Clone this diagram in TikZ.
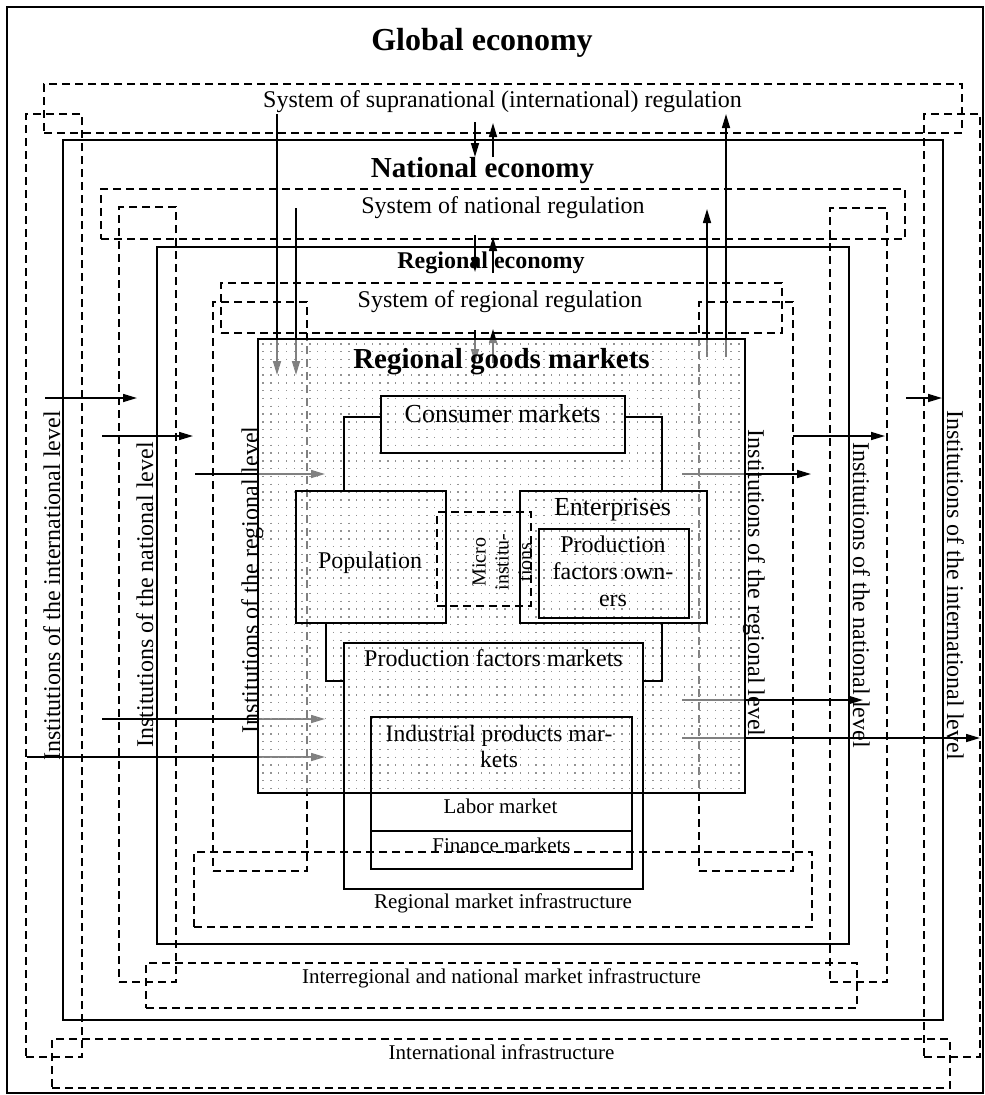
\documentclass[tikz,border=0pt]{standalone}
\usepackage{fontspec}
\setmainfont{Liberation Serif}
\usetikzlibrary{arrows.meta}
\begin{document}
\begin{tikzpicture}[x=1pt,y=-1pt,
  sbox/.style={draw, line width=1.6pt, inner sep=0pt, outer sep=0pt, anchor=north west},
  dbox/.style={sbox, dash pattern=on 8pt off 5pt},
  gbox/.style={sbox, line width=2.6pt},
  arr/.style={line width=1.6pt, -{Triangle[length=14pt,width=8pt]}},
  conn/.style={line width=1.6pt},
  dotline/.style={gray!85, line width=1.4pt, dash pattern=on 1.4pt off 6.4pt},
  lbl/.style={inner sep=0pt, outer sep=0pt, anchor=base},
  fXL/.style={font=\fontsize{32}{36}\selectfont\bfseries},
  fL/.style={font=\fontsize{29}{33}\selectfont\bfseries},
  fM/.style={font=\fontsize{24}{27}\selectfont},
  fMB/.style={font=\fontsize{24}{27}\selectfont\bfseries},
  fK/.style={font=\fontsize{26}{29}\selectfont},
  fS/.style={font=\fontsize{21}{24}\selectfont},
  fXS/.style={font=\fontsize{20}{23}\selectfont}
]
\useasboundingbox (0,0) rectangle (985,1095);

% outer frame
\node[sbox, line width=1.4pt, minimum width=976pt, minimum height=1086pt] (frame) at (7,7) {};

% international level
\node[dbox, minimum width=918pt, minimum height=49pt] (supra) at (44,84) {};
\node[dbox, minimum width=56pt, minimum height=943pt] (intlL) at (26,114) {};
\node[dbox, minimum width=56pt, minimum height=943pt] (intlR) at (924,114) {};
\node[dbox, minimum width=898pt, minimum height=49pt] (intlinf) at (52,1039) {};

% national level
\node[sbox, minimum width=880pt, minimum height=880pt] (nat) at (63,140) {};
\node[dbox, minimum width=804pt, minimum height=50pt] (natreg) at (101,189) {};
\node[dbox, minimum width=57pt, minimum height=775pt] (natL) at (119,207) {};
\node[dbox, minimum width=57pt, minimum height=774pt] (natR) at (830,208) {};
\node[dbox, minimum width=711pt, minimum height=45pt] (natinf) at (146,963) {};

% regional level
\node[sbox, minimum width=692pt, minimum height=697pt] (reg) at (157,247) {};
\node[dbox, minimum width=561pt, minimum height=50pt] (regreg) at (221,283) {};
\node[dbox, minimum width=94pt, minimum height=569pt] (regL) at (213,302) {};
\node[dbox, minimum width=94pt, minimum height=569pt] (regR) at (699,302) {};
\node[dbox, minimum width=618pt, minimum height=75pt] (reginf) at (194,852) {};

% arrows
\foreach \n/\xa/\ya/\xb/\yb in {
  hl1/45/398/137/398, hl2/102/436/193/436, hl3/195/474/325/474,
  hl4/102/719/325/719, hl5/27/757/325/757,
  hr1/906/398/942/398, hr2/793/436/885/436, hr3/682/474/811/474,
  hr4/682/700/863/700, hr5/682/738/980/738,
  vl1/277/114/277/375, vl2/296/208/296/375,
  vr1/707/357/707/209, vr2/726/357/726/114,
  md1/475/122/475/157, mu1/493/157/493/123,
  md2/475/235/475/272, mu2/493/273/493/237,
  md3/475/330/475/363, mu3/493/363/493/329}
{
  \coordinate (\n s) at (\xa,\ya);
  \coordinate (\n e) at (\xb,\yb);
  \draw[arr] (\n s) -- (\n e);
}

% regional goods markets: translucent dotted field
\fill[white, opacity=0.5] (258,339) rectangle (745,793);
\foreach \i in {0,...,61}{\draw[dotline] ({263+\i*7.8},343.2) -- ({263+\i*7.8},790);}
\node[gbox, minimum width=487pt, minimum height=454pt] (goods) at (258,339) {};

% inner boxes
\node[sbox, minimum width=244pt, minimum height=57pt] (cons) at (381,396) {};
\node[sbox, minimum width=150pt, minimum height=132pt] (pop) at (296,491) {};
\node[dbox, minimum width=94pt, minimum height=94pt] (micro) at (437,512) {};
\node[sbox, minimum width=187pt, minimum height=132pt] (ent) at (520,491) {};
\node[sbox, minimum width=150pt, minimum height=89pt] (pfo) at (539,529) {};
\node[sbox, minimum width=299pt, minimum height=246pt] (pfm) at (344,643) {};
\node[sbox, minimum width=261pt, minimum height=76pt] (ind) at (371,717) {};
\node[sbox, minimum width=261pt, minimum height=38pt] (lab) at (371,793) {};
\node[sbox, minimum width=261pt, minimum height=38pt] (fin) at (371,831) {};

% connectors
\draw[conn] ([yshift=7.5pt]cons.west) -| ([xshift=-27pt]pop.north);
\draw[conn] ([yshift=7.5pt]cons.east) -| ([xshift=48.5pt]ent.north);
\draw[conn] ([xshift=-45pt]pop.south) |- ([yshift=85pt]pfm.west);
\draw[conn] ([xshift=48.5pt]ent.south) |- ([yshift=85pt]pfm.east);

% texts
\node[lbl, fXL] (tglob) at (482,50) {Global economy};
\node[lbl, fM] (tsupra) at (502.5,107) {System of supranational (international) regulation};
\node[lbl, fL] (tnat) at (482.5,177) {National economy};
\node[lbl, fM] (tnatreg) at (503,213) {System of national regulation};
\node[lbl, fMB] (treg) at (491,268) {Regional economy};
\node[lbl, fM] (tregreg) at (500,307) {System of regional regulation};
\node[lbl, fL] (tgoods) at (501.5,368) {Regional goods markets};
\node[lbl, fK] (tcons) at (502.5,422) {Consumer markets};
\node[lbl, fM] (tpop) at (370,568) {Population};
\node[inner sep=0pt, rotate=90, align=center, fXS] (tmicro) at (502,562) {Micro\\institu-\\tions};
\node[lbl, fK] (tent) at (612.5,515) {Enterprises};
\node[inner sep=0pt, align=center, fM] (tpfo) at (613,571) {Production\\factors own-\\ers};
\node[lbl, fM] (tpfm) at (493.5,666) {Production factors markets};
\node[inner sep=0pt, align=center, font=\fontsize{23.5}{26}\selectfont] (tind) at (499,746) {Industrial products mar-\\kets};
\node[lbl, fS] (tlab) at (500.5,813) {Labor market};
\node[lbl, fS] (tfin) at (501.5,852) {Finance markets};
\node[lbl, fS] (treginf) at (503,908) {Regional market infrastructure};
\node[lbl, fS] (tnatinf) at (501.5,983) {Interregional and national market infrastructure};
\node[lbl, fS] (tintlinf) at (501.5,1059) {International infrastructure};

\node[lbl, fM, rotate=90] (tiL) at (60,586) {Institutions of the international level};
\node[lbl, fM, rotate=90] (tnL) at (153,595) {Institutions of the national level};
\node[lbl, fM, rotate=90] (trL) at (258,580) {Institutions of the regional level};
\node[lbl, fM, rotate=-90] (trR) at (748,583) {Institutions of the regional level};
\node[lbl, fM, rotate=-90] (tnR) at (853,595) {Institutions of the national level};
\node[lbl, fM, rotate=-90] (tiR) at (947,585) {Institutions of the international level};
\end{tikzpicture}
\end{document}
